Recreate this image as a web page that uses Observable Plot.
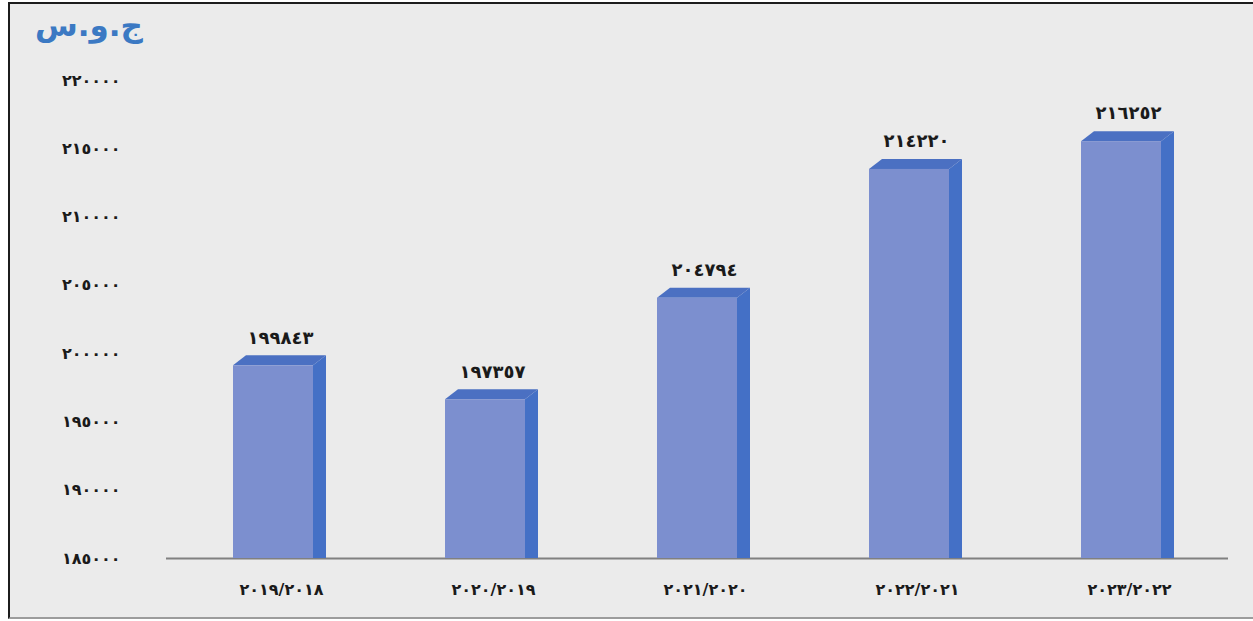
<!DOCTYPE html>
<html>
<head>
<meta charset="utf-8">
<script src="https://cdn.jsdelivr.net/npm/d3@7"></script>
<script src="https://cdn.jsdelivr.net/npm/@observablehq/plot@0.6"></script>
<style>
  html, body { margin: 0; padding: 0; background: #ffffff; width: 1253px; height: 621px; overflow: hidden; }
  #frame {
    position: absolute; left: 8px; top: 2px; width: 1270px; height: 613px;
    border-left: 2px solid #1c1c1c; border-top: 2px solid #1c1c1c; border-bottom: 2px solid #9c9c9c;
    background: #ebebeb;
  }
  #title {
    position: absolute; left: 25px; top: 3px;
    font: bold 31px "DejaVu Sans", sans-serif; color: #3b79c3;
  }
  #chart { position: absolute; left: 0; top: 48px; }
  .value-label text, .value-label { letter-spacing: 1.5px; }
</style>
</head>
<body>
<div id="frame">
  <div id="title">ج.و.س</div>
  <div id="chart"></div>
</div>
<script>
// Fiscal years (displayed with Arabic-Indic digits)
const periods = ["٢٠١٩/٢٠١٨", "٢٠٢٠/٢٠١٩", "٢٠٢١/٢٠٢٠", "٢٠٢٢/٢٠٢١", "٢٠٢٣/٢٠٢٢"];
// Amount per fiscal year
const amounts = [199843, 197357, 204794, 214220, 216252];
// Y axis domain and tick values
const yDomain = [185000, 220000];
const yTicks = [185000, 190000, 195000, 200000, 205000, 210000, 215000, 220000];

const arabicDigits = "٠١٢٣٤٥٦٧٨٩";
const toArabic = (n) => String(n).replace(/\d/g, (c) => arabicDigits[+c]);

const rows = periods.map((p, i) => ({period: p, amount: amounts[i]}));

// Box colours and depth of the 3D extrusion (pixels)
const frontColor = "#7c8fcf";
const topColor = "#4b70c2";
const sideColor = "#4470c6";
const depthX = 13;
const depthY = 10;

// Draws each bar as an extruded box: side face, top face, then front face.
function boxes(index, scales) {
  const x = scales.x, y = scales.y;
  const bw = typeof x.bandwidth === "function" ? x.bandwidth() : x.bandwidth;
  const base = y(yDomain[0]);
  const g = d3.create("svg:g");
  rows.forEach((d) => {
    const x0 = x(d.period), x1 = x0 + bw;
    const yt = y(d.amount);
    const yf = yt + depthY;
    g.append("path")
      .attr("d", `M${x1},${yf}L${x1 + depthX},${yt}L${x1 + depthX},${base}L${x1},${base}Z`)
      .attr("fill", sideColor);
    g.append("path")
      .attr("d", `M${x0},${yf}L${x0 + depthX},${yt}L${x1 + depthX},${yt}L${x1},${yf}Z`)
      .attr("fill", topColor);
    g.append("rect")
      .attr("x", x0).attr("y", yf)
      .attr("width", bw).attr("height", base - yf)
      .attr("fill", frontColor);
  });
  return g.node();
}

const chart = Plot.plot({
  width: 1245,
  height: 565,
  marginLeft: 156,
  marginRight: 27,
  marginTop: 28,
  marginBottom: 59,
  style: { background: "transparent", fontFamily: "DejaVu Sans, sans-serif", color: "#1a1a1a" },
  x: { type: "band", domain: periods, paddingInner: 0.623, paddingOuter: 0.3115 },
  y: { domain: yDomain },
  marks: [
    Plot.ruleY([yDomain[0]], { stroke: "#808080", strokeWidth: 2 }),
    boxes,
    Plot.text(rows, {
      x: "period", y: "amount", text: (d) => toArabic(d.amount),
      dx: 7, dy: -18, fontSize: 18, fontWeight: "bold", fill: "#1a1a1a",
      className: "value-label"
    }),
    Plot.axisY(yTicks, {
      tickSize: 0, tickPadding: 46, fontSize: 16, fontWeight: "bold",
      tickFormat: toArabic, label: null
    }),
    Plot.axisX({
      tickSize: 0, tickPadding: 25, fontSize: 16, fontWeight: "bold",
      dx: 8, label: null
    })
  ]
});

document.getElementById("chart").appendChild(chart);
</script>
</body>
</html>
